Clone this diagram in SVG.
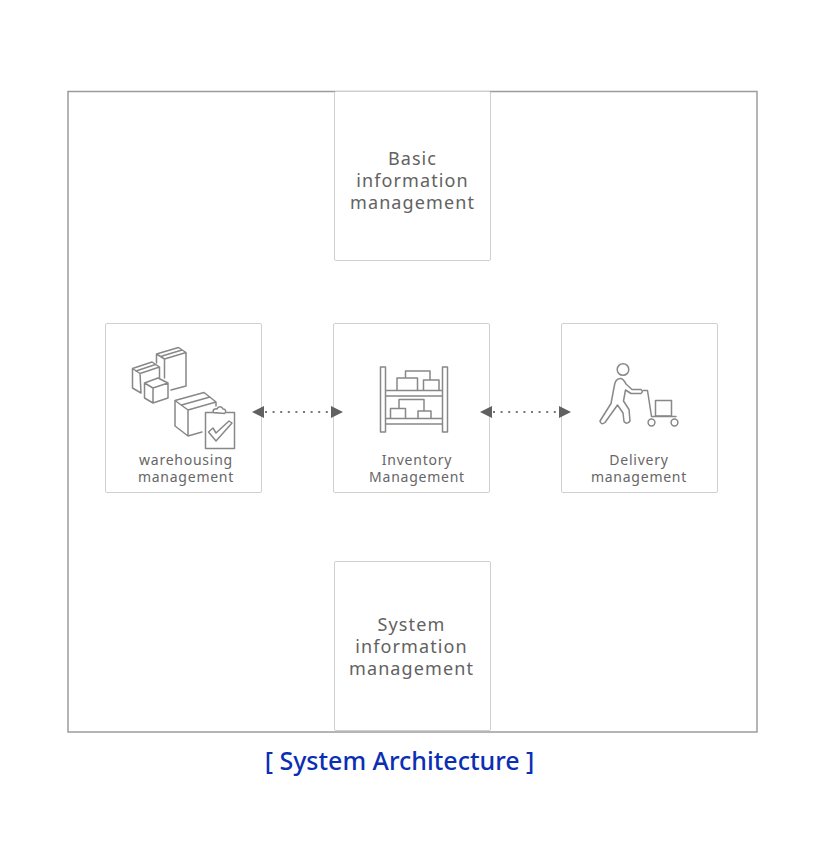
<svg xmlns="http://www.w3.org/2000/svg" width="818" height="860" viewBox="0 0 818 860">
<style>
.box{fill:#fff;stroke:#cfcfcf;stroke-width:1}
.ic{fill:none;stroke:#888;stroke-width:1.500;stroke-linejoin:round;stroke-linecap:round}
.ict{fill:#fff}
.big{font:18px "Noto Sans",sans-serif;letter-spacing:1.100px;fill:#626262;text-anchor:middle}
.sm{font:14px "Noto Sans",sans-serif;letter-spacing:.75px;fill:#666;text-anchor:middle}
.dot{stroke:#777;stroke-width:2;stroke-dasharray:2 5.600;fill:none}
.ah{fill:#616161}
</style>
<rect width="818" height="860" fill="#fff"/>
<rect id="frame" x="68" y="91.500" width="689" height="640.500" fill="none" stroke="#9c9c9c" stroke-width="1.500"/>
<g id="basic">
<rect class="box" x="334.500" y="91.500" width="156" height="169" rx="1.500"/>
<text class="big" x="412.500" y="165">Basic</text>
<text class="big" x="412.500" y="187">information</text>
<text class="big" x="412.500" y="209">management</text>
</g>
<g id="warehousing">
<rect class="box" x="105.500" y="323.500" width="156" height="169" rx="1.500"/>
<g class="ic">
<path d="M164.500 359L156.500 354L178.500 347.500L186 352.500L164.500 359ZM156.500 354V363M164.500 359V378M186 352.500V386L171 390M160.500 356.500L182 350"/>
<path d="M140 373.500L132.500 368.500L152 362L159.500 367L140 373.500ZM132.500 368.500V388L141 393L140 373.500M159.500 367V378M136 371L155.500 364.500"/>
<path d="M153 388L144.500 383L158 378L168 383L153 388ZM144.500 383V398L153 403L168 398V383M153 388V403"/>
<path d="M188 410L175 400.500L204 392.500L216 402L188 410ZM175 400.500V426L188 436L202 432M188 410V436M216 402V406M181.500 405L210 397"/>
<rect x="205.500" y="412.500" width="29" height="36"/>
<path class="ict" d="M213.500 412.500C212 409 216 408.500 217 409C218 406 222 406 223 409C226 409 226.500 412 224.500 413.500Z"/>
<path d="M208.500 432L213 428L216 433L229 421L232 423L216 441Z"/>
</g>
<text class="sm" x="186" y="465">warehousing</text>
<text class="sm" x="186" y="482">management</text>
</g>
<g id="inventory">
<rect class="box" x="333.500" y="323.500" width="156" height="169" rx="1.500"/>
<g class="ic">
<rect x="380.500" y="367" width="5" height="65"/>
<rect x="442.500" y="367" width="5" height="65"/>
<path d="M386 390.500H442M386 396H442M386 418.500H442M386 424H442"/>
<path d="M397 390V378H417.500V390M423.500 390V380H439V390M405.500 378V371H430V380"/>
<path d="M390.500 418V408.500H405.500V418M418 418V411H431V418M399 408.500V399.500H424V411"/>
</g>
<text class="sm" x="417" y="465">Inventory</text>
<text class="sm" x="417" y="482">Management</text>
</g>
<g id="delivery">
<rect class="box" x="561.500" y="323.500" width="156" height="169" rx="1.500"/>
<g class="ic">
<circle cx="623" cy="369.500" r="5.800"/>
<path d="M620 378.500Q623 378 626 384L632 389.500H641Q643.500 391.500 641 393.500H631L625.500 390L623.500 401L629 409.500L630 421Q627 425 624 421.500L623 413L617.500 405L605 422.500Q601 425.500 600 421L611 403.500L614.500 385Q615.500 379 620 378.500Z"/>
<path d="M643 390.500H647.500L651.500 416.500H676"/>
<rect x="655.500" y="400.500" width="16" height="15.500"/>
<circle cx="651.500" cy="422.500" r="3.400"/>
<circle cx="674.500" cy="422.500" r="3.400"/>
</g>
<text class="sm" x="639" y="465">Delivery</text>
<text class="sm" x="639" y="482">management</text>
</g>
<g id="system">
<rect class="box" x="334.500" y="561.500" width="156" height="169" rx="1.500"/>
<text class="big" x="411.500" y="631">System</text>
<text class="big" x="411.500" y="653">information</text>
<text class="big" x="411.500" y="675">management</text>
</g>
<g id="connectors">
<path class="dot" d="M265 412H331"/>
<path class="ah" d="M252 412L264 406V418Z"/>
<path class="ah" d="M343 412L331 406V418Z"/>
<path class="dot" d="M493 412H559"/>
<path class="ah" d="M480 412L492 406V418Z"/>
<path class="ah" d="M571 412L559 406V418Z"/>
</g>
<text id="title" x="399.500" y="770" font-family="Noto Sans, sans-serif" font-size="25" font-weight="500" fill="#0a2fb4" text-anchor="middle">[ System Architecture ]</text>
</svg>
